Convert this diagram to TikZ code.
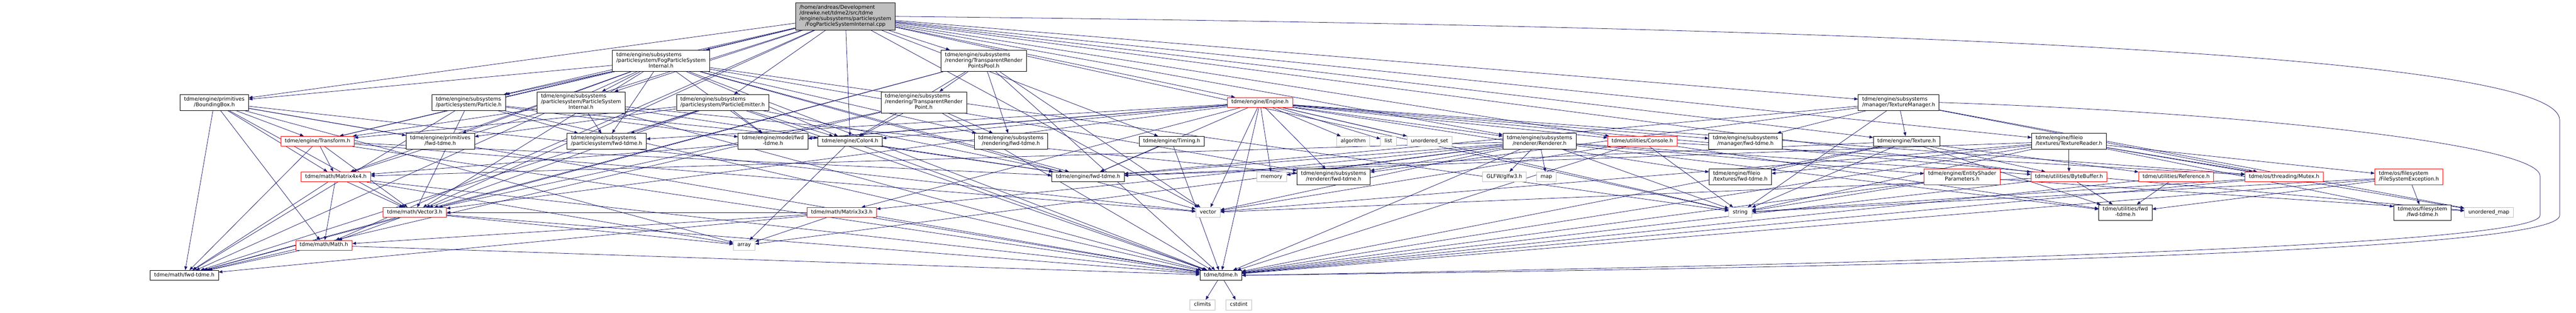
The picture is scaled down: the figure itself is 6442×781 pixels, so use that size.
\documentclass[tikz,border=0pt]{standalone}
\usepackage{fontspec}
\setmainfont{DejaVu Sans}
\usepackage{tikz}
\usetikzlibrary{arrows.meta}
\definecolor{edgeblue}{HTML}{191970}
\definecolor{sysgray}{HTML}{BFBFBF}
\pgfdeclarelayer{edges}
\pgfsetlayers{edges,main}
\newcommand{\lbl}[1]{\begin{tabular}{@{}l@{}}#1\end{tabular}}
\newcommand{\lastln}[1]{\multicolumn{1}{@{}c@{}}{#1}}

\begin{document}
\begin{tikzpicture}[x=0.75pt, y=-0.75pt,
    hdr/.style={draw=black, fill=white, line width=0.75pt, inner xsep=7.5pt, inner ysep=4.05pt,
                font=\fontsize{9.7}{10.65}\selectfont},
    trunc/.style={hdr, draw=red},
    sys/.style={hdr, draw=sysgray},
    rootbox/.style={hdr, fill=sysgray},
    dep/.style={draw=edgeblue, line width=0.75pt, -{Triangle[length=7pt,width=5.5pt]}}]
    \useasboundingbox (0,0) rectangle (6442,781);

    % Root file
    \node[rootbox] (root) at (2114,41) {\lbl{/home/andreas/Development\\/drewke.net/tdme2/src/tdme\\/engine/subsystems/particlesystem\\\lastln{/FogParticleSystemInternal.cpp}}};

    % Row 2
    \node[hdr] (fpsi) at (1653,152) {\lbl{tdme/engine/subsystems\\/particlesystem/FogParticleSystem\\\lastln{Internal.h}}};
    \node[hdr] (trpp) at (2460,152) {\lbl{tdme/engine/subsystems\\/rendering/TransparentRender\\\lastln{PointsPool.h}}};

    % Row 3
    \node[hdr] (bbox) at (536,256) {\lbl{tdme/engine/primitives\\\lastln{/BoundingBox.h}}};
    \node[hdr] (particle) at (1172,256) {\lbl{tdme/engine/subsystems\\\lastln{/particlesystem/Particle.h}}};
    \node[hdr] (psi) at (1453,256) {\lbl{tdme/engine/subsystems\\/particlesystem/ParticleSystem\\\lastln{Internal.h}}};
    \node[hdr] (emitter) at (1807,256) {\lbl{tdme/engine/subsystems\\\lastln{/particlesystem/ParticleEmitter.h}}};
    \node[hdr] (trp) at (2310,256) {\lbl{tdme/engine/subsystems\\/rendering/TransparentRender\\\lastln{Point.h}}};
    \node[trunc] (engine) at (3151,256) {\lbl{tdme/engine/Engine.h}};
    \node[hdr] (texmgr) at (4748,256) {\lbl{tdme/engine/subsystems\\\lastln{/manager/TextureManager.h}}};

    % Row 4
    \node[trunc] (transform) at (794,353) {\lbl{tdme/engine/Transform.h}};
    \node[hdr] (primfwd) at (1101,353) {\lbl{tdme/engine/primitives\\\lastln{/fwd-tdme.h}}};
    \node[hdr] (psfwd) at (1517,353) {\lbl{tdme/engine/subsystems\\\lastln{/particlesystem/fwd-tdme.h}}};
    \node[hdr] (modelfwd) at (1933,353) {\lbl{tdme/engine/model/fwd\\\lastln{-tdme.h}}};
    \node[hdr] (color4) at (2126,353) {\lbl{tdme/engine/Color4.h}};
    \node[hdr] (rendfwd) at (2528,353) {\lbl{tdme/engine/subsystems\\\lastln{/rendering/fwd-tdme.h}}};
    \node[hdr] (timing) at (2930,353) {\lbl{tdme/engine/Timing.h}};
    \node[sys] (algorithm) at (3384,353) {\lbl{algorithm}};
    \node[sys] (list) at (3472,353) {\lbl{list}};
    \node[sys] (uset) at (3575,353) {\lbl{unordered\_set}};
    \node[hdr] (renderer) at (3850,353) {\lbl{tdme/engine/subsystems\\\lastln{/renderer/Renderer.h}}};
    \node[trunc] (console) at (4107,353) {\lbl{tdme/utilities/Console.h}};
    \node[hdr] (mgrfwd) at (4365,353) {\lbl{tdme/engine/subsystems\\\lastln{/manager/fwd-tdme.h}}};
    \node[hdr] (texture) at (4768,353) {\lbl{tdme/engine/Texture.h}};
    \node[hdr] (texreader) at (5174,353) {\lbl{tdme/engine/fileio\\\lastln{/textures/TextureReader.h}}};

    % Row 5
    \node[trunc] (mat44) at (840,442) {\lbl{tdme/math/Matrix4x4.h}};
    \node[hdr] (enginefwd) at (2721,442) {\lbl{tdme/engine/fwd-tdme.h}};
    \node[sys] (memory) at (3180,442) {\lbl{memory}};
    \node[hdr] (rrfwd) at (3335,442) {\lbl{tdme/engine/subsystems\\\lastln{/renderer/fwd-tdme.h}}};
    \node[sys] (glfw) at (3762,442) {\lbl{GLFW/glfw3.h}};
    \node[sys] (map) at (3867,442) {\lbl{map}};
    \node[hdr] (texfwd) at (4352,442) {\lbl{tdme/engine/fileio\\\lastln{/textures/fwd-tdme.h}}};
    \node[trunc] (esp) at (4907,442) {\lbl{tdme/engine/EntityShader\\\lastln{Parameters.h}}};
    \node[trunc] (bytebuf) at (5174,442) {\lbl{tdme/utilities/ByteBuffer.h}};
    \node[trunc] (reference) at (5442,442) {\lbl{tdme/utilities/Reference.h}};
    \node[trunc] (mutex) at (5712,442) {\lbl{tdme/os/threading/Mutex.h}};
    \node[trunc] (fsexc) at (6024,442) {\lbl{tdme/os/filesystem\\\lastln{/FileSystemException.h}}};

    % Row 6
    \node[trunc] (vec3) at (1037,531) {\lbl{tdme/math/Vector3.h}};
    \node[trunc] (mat33) at (2105,531) {\lbl{tdme/math/Matrix3x3.h}};
    \node[sys] (vector) at (3021,531) {\lbl{vector}};
    \node[sys] (string) at (4352,531) {\lbl{string}};
    \node[hdr] (utilfwd) at (5315,531) {\lbl{tdme/utilities/fwd\\\lastln{-tdme.h}}};
    \node[hdr] (fsfwd) at (6058,531) {\lbl{tdme/os/filesystem\\\lastln{/fwd-tdme.h}}};
    \node[sys] (umap) at (6224,531) {\lbl{unordered\_map}};

    % Rows 7 to 9
    \node[trunc] (math) at (810,613) {\lbl{tdme/math/Math.h}};
    \node[sys] (array) at (1861,613) {\lbl{array}};
    \node[hdr] (mathfwd) at (461,688) {\lbl{tdme/math/fwd-tdme.h}};
    \node[hdr] (tdmeh) at (3053,688) {\lbl{tdme/tdme.h}};
    \node[sys] (climits) at (3007,762) {\lbl{climits}};
    \node[sys] (cstdint) at (3098,762) {\lbl{cstdint}};

    \begin{pgfonlayer}{edges}
    % Includes
    \foreach \t in {fpsi,trpp,bbox,transform,particle,psi,emitter,color4,engine,timing,renderer,console,texmgr,texreader,texture,mat44,vec3,math,string,vector,bytebuf}
        \draw[dep] (root) -- (\t);
    \foreach \t in {particle,psi,psfwd,modelfwd,color4,primfwd,bbox,transform,mat44,vec3,mathfwd,enginefwd,rrfwd,rendfwd,vector,string,tdmeh}
        \draw[dep] (fpsi) -- (\t);
    \foreach \t in {trp,rendfwd,color4,vec3,mathfwd,vector,tdmeh}
        \draw[dep] (trpp) -- (\t);
    \foreach \t in {color4,rendfwd,vec3,mathfwd,tdmeh}
        \draw[dep] (trp) -- (\t);
    \foreach \t in {psfwd,color4,vec3,mathfwd,modelfwd,tdmeh}
        \draw[dep] (particle) -- (\t);
    \foreach \t in {psfwd,transform,enginefwd,rrfwd,tdmeh}
        \draw[dep] (psi) -- (\t);
    \foreach \t in {psfwd,modelfwd,color4,vec3,transform,primfwd,enginefwd,mathfwd,tdmeh}
        \draw[dep] (emitter) -- (\t);
    \foreach \t in {transform,primfwd,mat44,vec3,math,mathfwd,array,vector,tdmeh}
        \draw[dep] (bbox) -- (\t);
    \foreach \t in {enginefwd,color4,algorithm,list,uset,renderer,console,memory,rrfwd,mgrfwd,texfwd,modelfwd,psfwd,mat33,mat44,vec3,vector,string,umap,mutex,tdmeh}
        \draw[dep] (engine) -- (\t);
    \foreach \t in {mgrfwd,texture,string,rrfwd,enginefwd,umap,mutex}
        \draw[dep] (texmgr) -- (\t);
    \foreach \t in {mat44,vec3,mathfwd,enginefwd,vector,tdmeh}
        \draw[dep] (transform) -- (\t);
    \foreach \t in {enginefwd,array,tdmeh}
        \draw[dep] (color4) -- (\t);
    \foreach \t in {enginefwd,tdmeh}
        \draw[dep] (timing) -- (\t);
    \foreach \t in {rrfwd,glfw,map,memory,enginefwd,mat33,mat44,array,vector,string,esp,bytebuf,utilfwd,tdmeh}
        \draw[dep] (renderer) -- (\t);
    \foreach \t in {vector,string,mutex,utilfwd,tdmeh}
        \draw[dep] (console) -- (\t);
    \foreach \t in {bytebuf,reference,utilfwd,texfwd,string,enginefwd,tdmeh}
        \draw[dep] (texture) -- (\t);
    \foreach \t in {texfwd,bytebuf,fsexc,fsfwd,string,vector,umap,mutex,enginefwd,tdmeh}
        \draw[dep] (texreader) -- (\t);
    \foreach \t in {string,umap,tdmeh}
        \draw[dep] (esp) -- (\t);
    \foreach \t in {utilfwd,vector,tdmeh}
        \draw[dep] (bytebuf) -- (\t);
    \foreach \t in {utilfwd,tdmeh}
        \draw[dep] (reference) -- (\t);
    \foreach \t in {string,tdmeh}
        \draw[dep] (mutex) -- (\t);
    \foreach \t in {fsfwd,utilfwd,string,tdmeh}
        \draw[dep] (fsexc) -- (\t);
    \foreach \t in {mathfwd,math,vec3,array,tdmeh}
        \draw[dep] (mat44) -- (\t);
    \foreach \t in {mathfwd,math,vec3,array,tdmeh}
        \draw[dep] (mat33) -- (\t);
    \foreach \t in {mathfwd,math,array,tdmeh}
        \draw[dep] (vec3) -- (\t);
    \foreach \t in {mathfwd,tdmeh}
        \draw[dep] (math) -- (\t);
    \foreach \t in {climits,cstdint}
        \draw[dep] (tdmeh) -- (\t);

    % Long ways round on the right
    \draw[dep] (root.east) .. controls (5000,70) and (6401,150) .. (6401,300)
        -- (6401,538) .. controls (6401,610) and (5400,660) .. (tdmeh.east);
    \draw[dep] (texmgr.east) .. controls (5600,280) and (6352,360) .. (6352,440)
        -- (6352,538) .. controls (6352,600) and (5300,650) .. (tdmeh.east);
    \end{pgfonlayer}
\end{tikzpicture}
\end{document}
